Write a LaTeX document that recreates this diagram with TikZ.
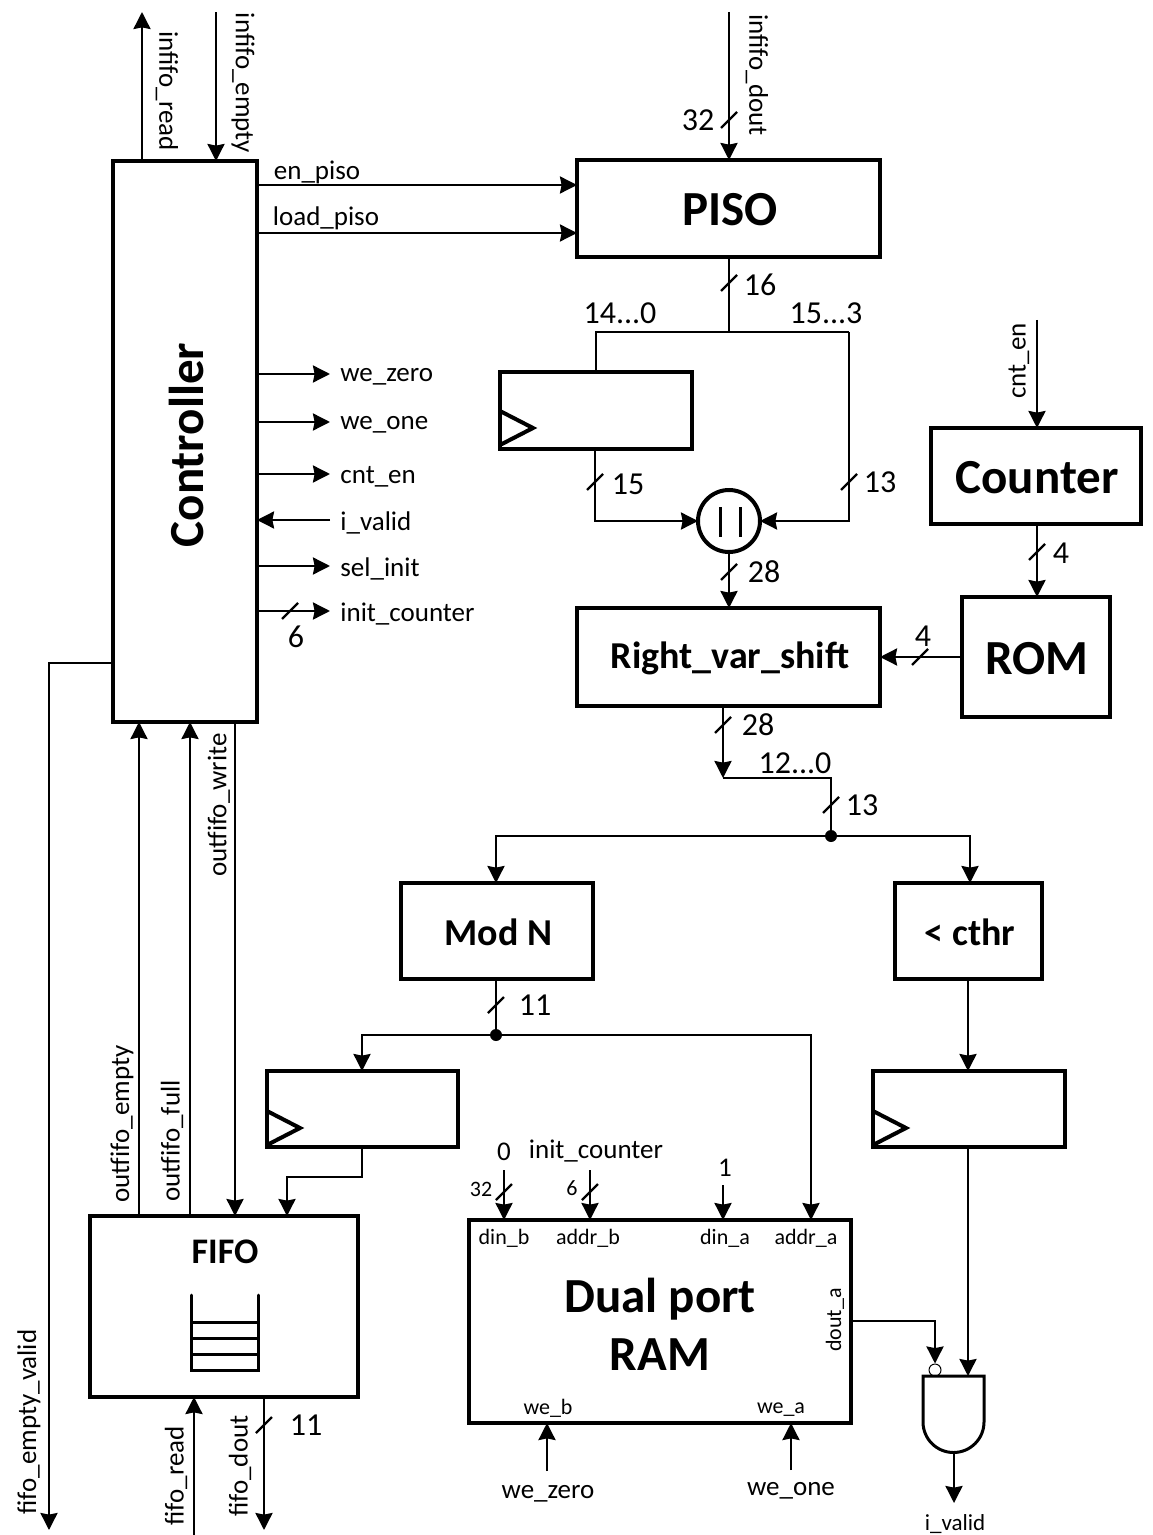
\documentclass[tikz,border=0pt]{standalone}
\usepackage{fontspec}
\setmainfont{Carlito}
\usetikzlibrary{arrows.meta}
\tikzset{
  block/.style={draw, line width=2pt, inner sep=0pt, outer sep=0pt, font=\bfseries\fontsize{24.5}{28}\selectfont, align=center},
  title/.style={block, draw=none},
  smalltitle/.style={block, draw=none, font=\bfseries\fontsize{19}{22}\selectfont},
  sig/.style={line width=1.25pt, line join=miter},
  lbl/.style={inner sep=0pt, font=\fontsize{13.5}{15}\selectfont},
  tiny/.style={inner sep=0pt, font=\fontsize{11}{13}\selectfont},
  num/.style={inner sep=0pt, font=\fontsize{16}{18}\selectfont},
  slash/.style={line width=1.2pt},
  dot/.style={circle, fill=black, inner sep=0pt, minimum size=6pt}
}
\newcommand{\busmark}[2]{\draw[slash] (#1,#2) ++(-8,8) -- ++(16,-16);}
\begin{document}
\begin{tikzpicture}[x=0.5pt, y=-0.5pt, >={Stealth[length=8.5pt, width=8.5pt, inset=0.8pt]}]
	\useasboundingbox (0,0) rectangle (1152,1535);
	% 1. blocks
	\node[block, minimum width=72pt, minimum height=280.5pt] (ctrl) at (185,441.5) {};
	\node[block, minimum width=151.5pt, minimum height=48.5pt] (piso) at (728.5,208.5) {};
	\node[block, minimum width=96pt, minimum height=38.5pt] (regA) at (596,410.5) {};
	\node[block, circle, minimum size=31pt, font=\fontsize{23}{24}\selectfont] (cat) at (729,521) {};
	\node[block, minimum width=151.5pt, minimum height=49pt] (shift) at (728.5,657) {};
	\node[block, minimum width=105pt, minimum height=48pt] (count) at (1036,476) {};
	\node[block, minimum width=74pt, minimum height=60pt] (rom) at (1036,657) {};
	\node[block, minimum width=96pt, minimum height=48pt] (modn) at (497,931) {};
	\node[block, minimum width=73.5pt, minimum height=48pt] (cthr) at (968.5,931) {};
	\node[block, minimum width=95.5pt, minimum height=38pt] (regB) at (362.5,1109) {};
	\node[block, minimum width=96pt, minimum height=38pt] (regC) at (969,1109) {};
	\node[block, minimum width=134pt, minimum height=90.5pt] (fifo) at (224,1306.5) {};
	\node[block, minimum width=191pt, minimum height=101.5pt] (ram) at (660,1321.5) {};

	% 2. block contents
	\node[title, rotate=90] (ctrlTxt) at (186,445) {Controller};
	\node[title] (pisoTxt) at (730,210) {PISO};
	\node[title] (countTxt) at (1037,478) {Counter};
	\node[title] (romTxt) at (1037,659) {ROM};
	\node[smalltitle] (shiftTxt) at (730,658) {Right\_var\_shift};
	\node[smalltitle] (modnTxt) at (498.5,932) {Mod N};
	\node[smalltitle] (cthrTxt) at (970,932) {< cthr};
	\node[smalltitle, font=\bfseries\fontsize{18}{22}\selectfont] (fifoTxt) at (225,1252) {FIFO};
	\node[title] (ramTxt) at (660,1324) {Dual port\\[1pt]RAM};
	\draw[line width=1.5pt] (730,521) ++(-10,-14) -- ++(0,30) ++(20,-30) -- ++(0,30);
	\draw[line width=1.5pt, line cap=round] (191,1295) -- (191,1370) -- (258,1370) -- (258,1295);
	\foreach \y in {1322,1338,1354} \draw[line width=1.5pt] (191,\y) -- (258,\y);
	\foreach \xx in {267,873} \draw[line width=2pt, line join=miter] (\xx,1111) -- ++(33,17) -- ++(-33,17);
	\draw[line width=2pt, line join=miter] (500,411) -- ++(33,17) -- ++(-33,17);
	\node[tiny] (dinb) at (504,1238) {din\_b};
	\node[tiny] (addrb) at (588,1238) {addr\_b};
	\node[tiny] (dina) at (725,1238) {din\_a};
	\node[tiny] (addra) at (806,1238) {addr\_a};
	\node[tiny] (web) at (548,1408) {we\_b};
	\node[tiny] (wea) at (781,1410) {we\_a};
	\node[tiny, rotate=90] (douta) at (835,1320) {dout\_a};

	% 3. controller signals
	\coordinate (irdEnd) at (142,12);
	\coordinate (iemEnd) at (216,12);
	\draw[sig,->] (ctrl.north -| irdEnd) -- (irdEnd);
	\draw[sig,<-] (ctrl.north -| iemEnd) -- (iemEnd);
	\node[lbl, rotate=-90] (irdTxt) at (167,91) {infifo\_read};
	\node[lbl, rotate=-90] (iemTxt) at (243,83) {infifo\_empty};
	\coordinate (enEnd) at (577,185);
	\coordinate (loadEnd) at (577,233);
	\draw[sig,->] (ctrl.east |- enEnd) -- (piso.west |- enEnd);
	\draw[sig,->] (ctrl.east |- loadEnd) -- (piso.west |- loadEnd);
	\node[lbl] (enTxt) at (317,172) {en\_piso};
	\node[lbl] (loadTxt) at (326,218) {load\_piso};
	\foreach \y/\name/\txt in {374/wezero/we\_zero, 422/weone/we\_one, 474/cnten/cnt\_en, 566/sel/sel\_init, 611/initc/init\_counter} {
		\coordinate (\name End) at (330,\y);
		\draw[sig,->] (ctrl.east |- \name End) -- (\name End);
		\node[lbl, anchor=west] (\name Txt) at (340,\y+3) {\txt};
	}
	\coordinate (ivEnd) at (330,520);
	\draw[sig,->] (ivEnd) -- (ctrl.east |- ivEnd);
	\node[lbl, anchor=west] (ivTxt) at (340,523) {i\_valid};
	\busmark{290}{611}
	\node[num] (sixTxt) at (296,637) {6};

	% 4. controller and fifo
	\coordinate (fevBend) at (49,663);
	\coordinate (fevEnd) at (49,1530);
	\draw[sig,->] (ctrl.west |- fevBend) -- (fevBend) -- (fevEnd);
	\node[lbl, rotate=90] (fevTxt) at (29,1422) {fifo\_empty\_valid};
	\coordinate (oemX) at (139,722);
	\coordinate (oflX) at (190,722);
	\coordinate (owrX) at (235,722);
	\draw[sig,->] (fifo.north -| oemX) -- (ctrl.south -| oemX);
	\draw[sig,->] (fifo.north -| oflX) -- (ctrl.south -| oflX);
	\draw[sig,->] (ctrl.south -| owrX) -- (fifo.north -| owrX);
	\node[lbl, rotate=90] (oemTxt) at (122,1124) {outfifo\_empty};
	\node[lbl, rotate=90] (oflTxt) at (172,1141) {outfifo\_full};
	\node[lbl, rotate=90] (owrTxt) at (219,805) {outfifo\_write};
	\coordinate (frdEnd) at (194,1535);
	\coordinate (fdoEnd) at (264,1530);
	\draw[sig,->] (frdEnd) -- (fifo.south -| frdEnd);
	\draw[sig,->] (fifo.south -| fdoEnd) -- (fdoEnd);
	\node[lbl, rotate=90] (frdTxt) at (176,1476) {fifo\_read};
	\node[lbl, rotate=90] (fdoTxt) at (240,1466) {fifo\_dout};
	\busmark{264}{1425}
	\node[num] (elevenB) at (306,1425) {11};

	% 5. datapath
	\coordinate (dinEnd) at (729,12);
	\draw[sig,->] (dinEnd) -- (dinEnd |- piso.north);
	\node[lbl, rotate=-90] (dinTxt) at (757,75) {infifo\_dout};
	\busmark{729}{120}
	\node[num] (w32) at (698,120) {32};
	\coordinate (splitC) at (729,332);
	\coordinate (splitL) at (596,332);
	\coordinate (splitR) at (849,332);
	\draw[sig] (piso.south -| splitC) -- (splitC);
	\draw[sig] (regA.north -| splitL) -- (splitL) -- (splitR);
	\draw[sig,->] (splitR) -- (splitR |- cat.east) -- (cat.east);
	\busmark{729}{283}
	\node[num] (w16) at (760,285) {16};
	\node[num] (rngA) at (620,313) {14...0};
	\node[num] (rngB) at (826,313) {15...3};
	\coordinate (regAout) at (595,449);
	\draw[sig,->] (regA.south -| regAout) -- (regAout |- cat.west) -- (cat.west);
	\busmark{595}{482}
	\node[num] (w15) at (628,484) {15};
	\busmark{849}{482}
	\node[num] (w13) at (880,482) {13};
	\draw[sig,->] (cat.south) -- (shift.north -| cat.south);
	\busmark{729}{572}
	\node[num] (w28) at (764,572) {28};
	\coordinate (cntEnd) at (1037,320);
	\draw[sig,->] (cntEnd) -- (count.north -| cntEnd);
	\node[lbl, rotate=90] (cntTxt) at (1019,361) {cnt\_en};
	\draw[sig,->] (count.south -| cntEnd) -- (rom.north -| cntEnd);
	\busmark{1037}{552}
	\node[num] (w4a) at (1061,553) {4};
	\draw[sig,->] (rom.west) -- (shift.east |- rom.west);
	\busmark{920}{657}
	\node[num] (w4b) at (923,636) {4};
	\coordinate (shBend) at (723,778);
	\coordinate (shOut) at (831,778);
	\node[dot] (junA) at (831,836) {};
	\draw[sig,->] (shift.south -| shBend) -- (shBend);
	\draw[sig] (shBend) -- (shOut) -- (junA);
	\busmark{723}{725}
	\node[num] (w28b) at (758,725) {28};
	\node[num] (rngC) at (795,763) {12...0};
	\busmark{831}{805}
	\node[num] (w13b) at (862,805) {13};
	\coordinate (modIn) at (496,836);
	\coordinate (cmpIn) at (970,836);
	\draw[sig,->] (junA) -- (modIn) -- (modIn |- modn.north);
	\draw[sig,->] (junA) -- (cmpIn) -- (cmpIn |- cthr.north);
	\node[dot] (junB) at (496,1035) {};
	\draw[sig] (modn.south -| junB) -- (junB);
	\busmark{496}{1005}
	\node[num] (w11) at (535,1005) {11};
	\coordinate (regBin) at (362,1035);
	\coordinate (addrIn) at (811,1035);
	\draw[sig,->] (junB) -- (regBin) -- (regBin |- regB.north);
	\draw[sig,->] (junB) -- (addrIn) -- (addrIn |- ram.north);
	\coordinate (regBoutA) at (362,1177);
	\coordinate (regBoutB) at (287,1177);
	\draw[sig,->] (regB.south -| regBoutA) -- (regBoutA) -- (regBoutB) -- (regBoutB |- fifo.north);
	\coordinate (cmpOut) at (968,979);
	\draw[sig,->] (cthr.south -| cmpOut) -- (regC.north -| cmpOut);

	% 6. ram ports
	\coordinate (dinbEnd) at (504,1170);
	\coordinate (addrbEnd) at (590,1170);
	\coordinate (dinaEnd) at (723,1185);
	\draw[sig,->] (dinbEnd) -- (dinbEnd |- ram.north);
	\draw[sig,->] (addrbEnd) -- (addrbEnd |- ram.north);
	\draw[sig,->] (dinaEnd) -- (dinaEnd |- ram.north);
	\busmark{504}{1192}
	\busmark{590}{1192}
	\node[tiny] (w32b) at (481,1189) {32};
	\node[tiny] (w6b) at (572,1188) {6};
	\node[lbl] (zeroTxt) at (504,1152) {0};
	\node[lbl] (initTxt) at (596,1151) {init\_counter};
	\node[lbl] (oneTxt) at (725,1168) {1};
	\coordinate (webEnd) at (547,1471);
	\coordinate (weaEnd) at (791,1470);
	\draw[sig,->] (webEnd) -- (webEnd |- ram.south);
	\draw[sig,->] (weaEnd) -- (weaEnd |- ram.south);
	\node[lbl] (wzTxt) at (548,1494) {we\_zero};
	\node[lbl] (woTxt) at (791,1491) {we\_one};

	% 7. and gate
	\draw[line width=1.5pt, fill=white] (923,1376) -- (984,1376) -- (984,1422) arc[start angle=0, end angle=-180, radius=15.25pt] -- cycle;
	\coordinate (gateOut) at (954,1452);
	\coordinate (gateEnd) at (954,1503);
	\draw[sig,->] (gateOut) -- (gateEnd);
	\node[lbl, font=\fontsize{11.5}{13}\selectfont] (gvTxt) at (955,1524) {i\_valid};
	\node[circle, draw, line width=0.5pt, inner sep=0pt, minimum size=6pt] (bubble) at (935,1370) {};
	\coordinate (doutBend) at (935,1321);
	\draw[sig,->] (ram.east |- doutBend) -- (doutBend) -- (bubble.north);
	\coordinate (cmpGate) at (968,1376);
	\draw[sig,->] (regC.south -| cmpGate) -- (cmpGate);
\end{tikzpicture}
\end{document}
